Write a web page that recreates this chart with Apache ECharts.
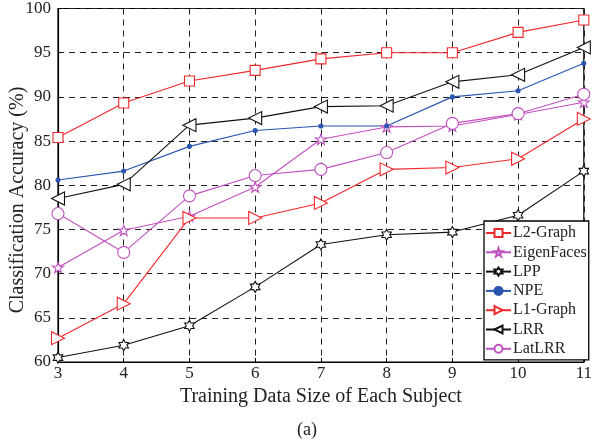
<!DOCTYPE html>
<html><head><meta charset="utf-8">
<script src="https://cdn.jsdelivr.net/npm/echarts@6/dist/echarts.min.js"></script>
<style>html,body{margin:0;padding:0;background:#fff}#c{width:595px;height:447px}</style>
</head><body><div id="c"></div>
<script>
const xValues = [3, 4, 5, 6, 7, 8, 9, 10, 11];
const l2Graph    = [85.4, 89.3, 91.8, 93.0, 94.3, 95.0, 95.0, 97.3, 98.7];
const eigenFaces = [70.7, 74.9, 76.5, 79.8, 85.2, 86.6, 86.7, 88.0, 89.4];
const lpp        = [60.5, 61.9, 64.1, 68.5, 73.3, 74.4, 74.7, 76.6, 81.6];
const npe        = [80.6, 81.6, 84.4, 86.2, 86.7, 86.7, 90.0, 90.7, 93.8];
const l1Graph    = [62.7, 66.6, 76.3, 76.3, 78.0, 81.8, 82.0, 83.0, 87.5];
const lrr        = [78.5, 80.1, 86.8, 87.6, 88.9, 89.0, 91.7, 92.5, 95.6];
const latLrr     = [76.8, 72.4, 78.8, 81.1, 81.8, 83.7, 87.0, 88.1, 90.3];
const seriesNames = ['L2-Graph','EigenFaces','LPP','NPE','L1-Graph','LRR','LatLRR'];
const yTicks = [60, 65, 70, 75, 80, 85, 90, 95, 100];

const RED = '#f0282d', MAG = '#c050c0', BLUE = '#2a55b0', BLK = '#111';
const star5 = 'path://M0,-10 L2.25,-3.09 L9.51,-3.09 L3.63,1.18 L5.88,8.09 L0,3.82 L-5.88,8.09 L-3.63,1.18 L-9.51,-3.09 L-2.25,-3.09 Z';
const star6 = 'path://M0,-10 L2.89,-5 L8.66,-5 L5.77,0 L8.66,5 L2.89,5 L0,10 L-2.89,5 L-8.66,5 L-5.77,0 L-8.66,-5 L-2.89,-5 Z';

function mk(name, data, color, symbol, size, rot, filled) {
  return {
    name, type: 'line', data: data.map((v, i) => [xValues[i], v]),
    symbol, symbolSize: size, symbolRotate: rot || 0, symbolKeepAspect: true,
    showAllSymbol: true,
    lineStyle: { color, width: 1.1 },
    itemStyle: { color: filled ? color : '#fff', borderColor: color, borderWidth: 1.1 },
    emphasis: { disabled: true }, animation: false, z: 3
  };
}

const font = 'Liberation Serif, Times New Roman, serif';
const chart = echarts.init(document.getElementById('c'));
chart.setOption({
  animation: false,
  backgroundColor: '#fff',
  grid: { left: 58, right: 6, top: 8, bottom: 85, show: true, borderColor: '#000', borderWidth: 1.2, backgroundColor: 'transparent' },
  xAxis: {
    type: 'value', min: 3, max: 11, interval: 1,
    name: 'Training Data Size of Each Subject', nameLocation: 'middle', nameGap: 21,
    nameTextStyle: { fontFamily: font, fontSize: 20, color: '#222' },
    axisLine: { show: true, lineStyle: { color: '#000', width: 1.2 } },
    axisTick: { show: true, inside: true, length: 4, lineStyle: { color: '#000' } },
    axisLabel: { fontFamily: font, fontSize: 17, color: '#222', margin: 3 },
    splitLine: { show: true, lineStyle: { color: '#222', type: [6, 5], width: 1 } }
  },
  yAxis: {
    type: 'value', min: 60, max: 100, interval: 5,
    axisLine: { show: true, lineStyle: { color: '#000', width: 1.2 } },
    axisTick: { show: true, inside: true, length: 4, lineStyle: { color: '#000' } },
    axisLabel: { fontFamily: font, fontSize: 17, color: '#222', margin: 7 },
    splitLine: { show: true, lineStyle: { color: '#222', type: [6, 5], width: 1 } }
  },
  legend: {
    orient: 'vertical', left: 484, top: 221,
    data: seriesNames,
    itemWidth: 25, itemHeight: 10, itemGap: 3.3,
    padding: [4, 2, 3, 1],
    backgroundColor: '#fff', borderColor: '#000', borderWidth: 1.3, borderRadius: 0,
    textStyle: { fontFamily: font, fontSize: 16, lineHeight: 16, color: '#222', padding: [0, 0, 0, -3] },
    z: 10
  },
  graphic: [
    { type: 'text', x: 18, y: 200, rotation: Math.PI / 2,
      style: { text: 'Classification Accuracy (%)', font: '20px ' + font, fill: '#222', align: 'center', verticalAlign: 'middle' } },
    { type: 'text', x: 307, y: 430,
      style: { text: '(a)', font: '18px ' + font, fill: '#222', align: 'center', verticalAlign: 'middle' } }
  ],
  series: [
    mk('L2-Graph', l2Graph, RED, 'rect', 10, 0, false),
    mk('EigenFaces', eigenFaces, MAG, star5, 11, 0, false),
    mk('LPP', lpp, BLK, star6, 11, 0, false),
    mk('NPE', npe, BLUE, 'circle', 4, 0, true),
    mk('L1-Graph', l1Graph, RED, 'triangle', 13, -90, false),
    mk('LRR', lrr, BLK, 'triangle', 13, 90, false),
    mk('LatLRR', latLrr, MAG, 'circle', 12, 0, false)
  ]
});
</script></body></html>
